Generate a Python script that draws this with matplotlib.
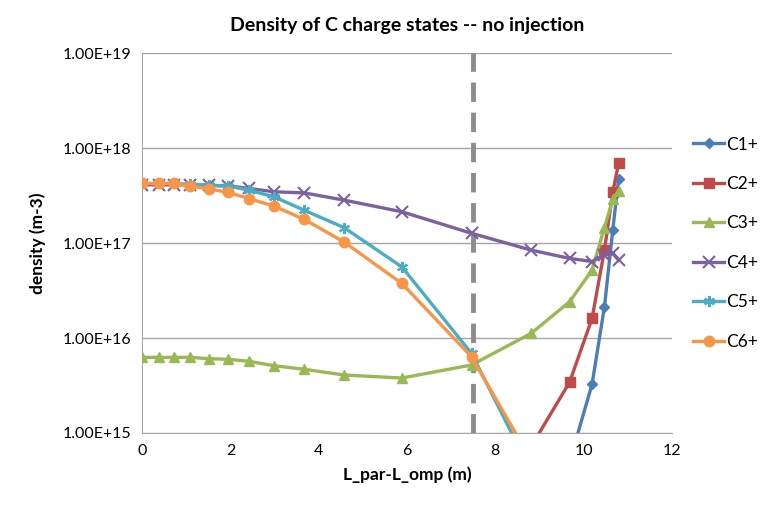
import matplotlib.pyplot as plt
import numpy as np

# positions along the field line (m)
x = [0, 0.38, 0.72, 1.09, 1.51, 1.95, 2.42, 2.99, 3.67, 4.57, 5.88,
     7.46, 8.81, 9.68, 10.19, 10.47, 10.66, 10.79]
nan = np.nan

c1 = [nan]*13 + [4.95e14, 3.26e15, 2.13e16, 1.39e17, 4.68e17]
c2 = [nan]*12 + [7.2e14, 3.42e15, 1.61e16, 8.4e16, 3.47e17, 6.9e17]
c3 = [6.26e15, 6.26e15, 6.26e15, 6.26e15, 6.06e15, 5.97e15, 5.69e15, 5.11e15,
      4.69e15, 4.08e15, 3.79e15, 5.2e15, 1.12e16, 2.41e16, 5.2e16, 1.46e17,
      2.88e17, 3.55e17]
c4 = [4.11e17, 4.11e17, 4.11e17, 4.11e17, 4.05e17, 4.0e17, 3.77e17, 3.47e17,
      3.38e17, 2.84e17, 2.14e17, 1.27e17, 8.44e16, 6.9e16, 6.4e16, 7.5e16,
      7.8e16, 6.6e16]
c5 = [4.25e17, 4.25e17, 4.25e17, 4.15e17, 4.07e17, 3.98e17, 3.61e17, 3.07e17,
      2.22e17, 1.46e17, 5.63e16, 6.9e15, 3.9e14, nan, nan, nan, nan, nan]
c6 = [4.25e17, 4.25e17, 4.25e17, 3.98e17, 3.73e17, 3.42e17, 2.95e17, 2.45e17,
      1.78e17, 1.03e17, 3.77e16, 6.35e15, 5.2e14, nan, nan, nan, nan, nan]

names = ['C1+', 'C2+', 'C3+', 'C4+', 'C5+', 'C6+']
series = [c1, c2, c3, c4, c5, c6]
colors = ['#4A7EBB', '#BE4B48', '#98B954', '#7D60A0', '#4BACC6', '#F79646']
markers = ['D', 's', '^', 'x', (6, 2, 0), 'o']
msizes = [5.5, 7, 7.5, 8, 8, 7.5]

plt.rcParams['font.family'] = ['Lato', 'DejaVu Sans']

fig = plt.figure(figsize=(7.68, 5.07), dpi=100)
ax = fig.add_axes([0.185, 0.146, 0.69, 0.749])

ax.axvline(7.5, color='#8C8C8C', lw=3.5, dashes=(4, 2.2), zorder=1)

for name, y, col, m, ms in zip(names, series, colors, markers, msizes):
    thin = m in ('x', (6, 2, 0))
    ax.plot(x, y, color=col, lw=2.4, marker=m, ms=ms, mfc=col, mec=col,
            mew=1.5 if thin else 1.0, label=name, zorder=3)

ax.set_yscale('log')
ax.set_ylim(1e15, 1e19)
ax.set_xlim(0, 12)
ax.set_xticks(range(0, 13, 2))
ax.set_yticks([1e15, 1e16, 1e17, 1e18, 1e19])
ax.set_yticklabels(['1.00E+15', '1.00E+16', '1.00E+17', '1.00E+18', '1.00E+19'])
ax.minorticks_off()
ax.tick_params(axis='both', labelsize=11.5, length=0, pad=8)
ax.grid(axis='y', color='#A6A6A6', lw=1)
ax.set_axisbelow(True)
for s in ['top', 'right']:
    ax.spines[s].set_visible(False)
for s in ['left', 'bottom']:
    ax.spines[s].set_color('#A6A6A6')

ax.set_xlabel('L_par-L_omp (m)', fontsize=12.5, fontweight='bold', labelpad=6)
ax.set_ylabel('density (m-3)', fontsize=12.5, fontweight='bold', labelpad=12)
ax.set_title('Density of C charge states -- no injection', fontsize=14,
             fontweight='bold', pad=16)

ax.legend(loc='center left', bbox_to_anchor=(1.01, 0.5), frameon=False,
          fontsize=12.5, labelspacing=1.35, handlelength=1.8, handletextpad=0.1)

fig.savefig('out.png', dpi=100)
